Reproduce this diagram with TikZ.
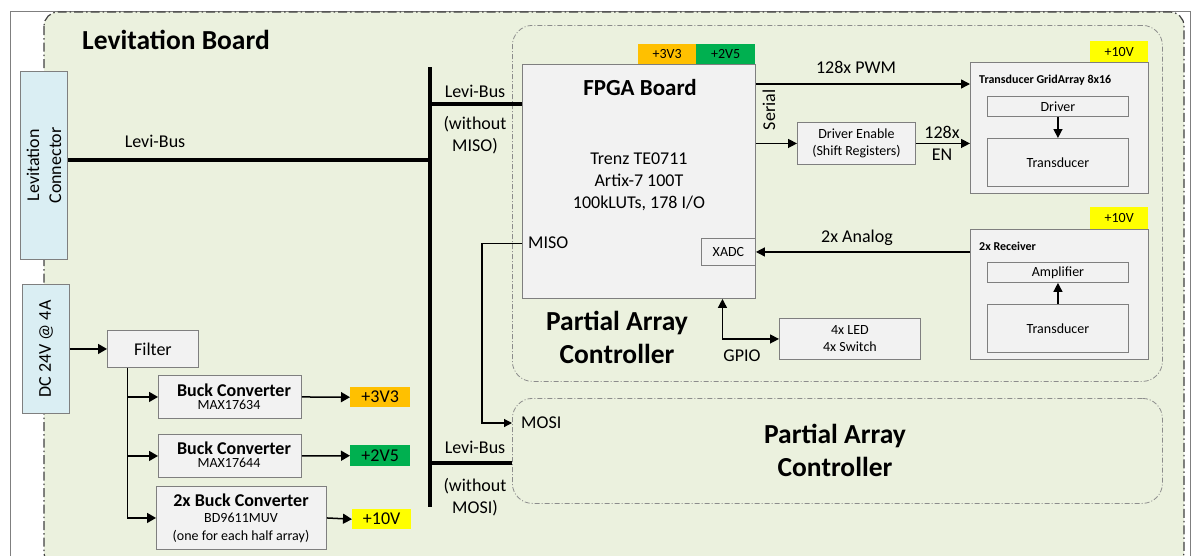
\documentclass[tikz,border=0pt]{standalone}
\usepackage{fontspec}
\setmainfont{Carlito}
\usetikzlibrary{arrows.meta,calc}
\definecolor{boardgreen}{HTML}{EBF1DE}
\definecolor{boxfill}{HTML}{F2F2F2}
\definecolor{boxline}{HTML}{7F7F7F}
\definecolor{connblue}{HTML}{DAEEF3}
\definecolor{orangeV}{HTML}{FFC000}
\definecolor{greenV}{HTML}{00B050}
\definecolor{yellowV}{HTML}{FFFF00}
\definecolor{borderdark}{HTML}{404040}
\definecolor{pacline}{HTML}{8C8C8C}
\begin{document}
\begin{tikzpicture}[x=1pt,y=-1pt,
  box/.style={draw=boxline, fill=boxfill, line width=0.9pt, inner sep=0pt, anchor=north west, align=center},
  vlab/.style={inner sep=0pt, anchor=north west, align=center},
  pac/.style={draw=pacline, line width=0.8pt, rounded corners=20pt, dash pattern=on 5pt off 2pt on 1pt off 2pt, inner sep=0pt, anchor=north west},
  fbig/.style={font=\fontsize{27.5}{33}\selectfont\bfseries},
  fmid/.style={font=\fontsize{18}{22}\selectfont},
  fmidb/.style={font=\fontsize{18}{20}\selectfont\bfseries},
  fsm/.style={font=\fontsize{14}{17}\selectfont},
  fsmb/.style={font=\fontsize{12}{15}\selectfont\bfseries},
  txt/.style={inner sep=0pt},
  bus/.style={line width=4pt},
  arr/.style={line width=1.4pt, -{Triangle[length=9pt,width=9pt]}},
  parr/.style={line width=1.5pt, -{Triangle[length=9pt,width=10pt]}},
  thin/.style={line width=1.2pt}
]
\useasboundingbox (0,0) rectangle (1197,555);
% outer frame
\draw[boxline, line width=0.9pt] (10,560) -- (10,11) -- (1190,11) -- (1190,560);
% board
\draw[borderdark, fill=boardgreen, line width=1.2pt, rounded corners=14pt, dash pattern=on 9pt off 3pt on 1.5pt off 3pt] (44,12) rectangle (1184,566);
\node[txt, fbig, anchor=west] (title) at (82,40) {Levitation Board};

% partial array controller regions
\node[pac, minimum width=650pt, minimum height=356pt] (pac1) at (512,25) {};
\node[pac, minimum width=650pt, minimum height=105pt] (pac2) at (512,398) {};
\node[txt, fbig, align=center] (pac1t) at (617,337) {Partial Array\\Controller};
\node[txt, fbig, align=center] (pac2t) at (835,450) {Partial Array\\Controller};

% connectors on the left
\node[box, fill=connblue, minimum width=47pt, minimum height=188pt] (conn) at (20,71) {};
\node[txt, fmid, rotate=90, align=center] (connt) at (conn.center) {Levitation\\Connector};
\node[box, fill=connblue, minimum width=47pt, minimum height=129pt] (dc) at (22,284) {};
\node[txt, fmid, rotate=90] (dct) at (dc.center) {DC 24V @ 4A};

% FPGA
\node[box, fmid, minimum width=233pt, minimum height=234pt] (fpga) at (522,64) {Trenz TE0711\\Artix-7 100T\\100kLUTs, 178 I/O};
\node[txt, font=\fontsize{23}{26}\selectfont\bfseries] (fpgat) at (640,88) {FPGA Board};
\node[vlab, fill=orangeV, fsm, minimum width=58pt, minimum height=20pt] (f33) at (638,44) {+3V3};
\node[vlab, fill=greenV, fsm, minimum width=59pt, minimum height=20pt] (f25) at (696,44) {+2V5};
\node[box, fsm, minimum width=54pt, minimum height=27pt] (xadc) at (701,238) {XADC};

% driver enable
\node[box, fsm, minimum width=118pt, minimum height=42pt] (de) at (797,122) {Driver Enable\\(Shift Registers)};

% transducer grid array
\node[box, minimum width=178pt, minimum height=131pt] (tga) at (970,62) {};
\node[vlab, fill=yellowV, fsm, minimum width=58pt, minimum height=21pt] (t10) at (1090,41) {+10V};
\node[txt, fsmb, anchor=west] (tgat) at (979,80) {Transducer GridArray 8x16};
\node[box, fsm, minimum width=141pt, minimum height=20pt] (drv) at (987,96) {Driver};
\node[box, fsm, minimum width=141pt, minimum height=48pt] (tr1) at (987,138) {Transducer};

% receiver
\node[box, minimum width=178pt, minimum height=130pt] (rx) at (970,229) {};
\node[vlab, fill=yellowV, fsm, minimum width=58pt, minimum height=22pt] (r10) at (1090,207) {+10V};
\node[txt, fsmb, anchor=west] (rxt) at (979,246) {2x Receiver};
\node[box, fsm, minimum width=141pt, minimum height=20pt] (amp) at (987,262) {Amplifier};
\node[box, fsm, minimum width=141pt, minimum height=48pt] (tr2) at (987,304) {Transducer};

% LED
\node[box, fsm, minimum width=141pt, minimum height=41pt] (led) at (779,318) {4x LED\\4x Switch};

% power section
\node[box, fmid, minimum width=91pt, minimum height=37pt] (filter) at (107,330) {Filter};
\node[box, minimum width=143pt, minimum height=43pt] (b1) at (158,375) {};
\node[txt, fmidb] (b1t) at (234,390) {Buck Converter};
\node[txt, fsm] (b1s) at (229,405) {MAX17634};
\node[box, minimum width=143pt, minimum height=43pt] (b2) at (158,434) {};
\node[txt, fmidb] (b2t) at (234,448) {Buck Converter};
\node[txt, fsm] (b2s) at (229,463) {MAX17644};
\node[box, minimum width=170pt, minimum height=63pt] (b3) at (156,486) {};
\node[txt, fmidb] (b3t) at (241,500) {2x Buck Converter};
\node[txt, fsm] (b3s) at (241,518) {BD9611MUV};
\node[txt, fsm] (b3n) at (241,536) {(one for each half array)};
\node[vlab, fill=orangeV, fmid, minimum width=60pt, minimum height=20pt] (p33) at (350,387) {+3V3};
\node[vlab, fill=greenV, fmid, minimum width=60pt, minimum height=21pt] (p25) at (350,445) {+2V5};
\node[vlab, fill=yellowV, fmid, minimum width=59pt, minimum height=20pt] (p10) at (352,509) {+10V};

% labels
\node[txt, fmid] (lb1) at (155,141) {Levi-Bus};
\node[txt, fmid] (lb2) at (475,91) {Levi-Bus};
\node[txt, fmid, align=center] (lb2n) at (475,135) {(without\\MISO)};
\node[txt, fmid] (lb3) at (475,447) {Levi-Bus};
\node[txt, fmid, align=center] (lb3n) at (475,497) {(without\\MOSI)};
\node[txt, fmid, anchor=west] (misol) at (528,243) {MISO};
\node[txt, fmid, anchor=west] (mosil) at (521,423) {MOSI};
\node[txt, fmid] (pwml) at (856,67) {128x PWM};
\node[txt, fmid, rotate=90] (seriall) at (769,110) {Serial};
\node[txt, fmid] (enl1) at (942,132) {128x};
\node[txt, fmid] (enl2) at (942,155) {EN};
\node[txt, fmid] (anal) at (857,238) {2x Analog};
\node[txt, fmid] (gpiol) at (742,356) {GPIO};

% bus
\coordinate (busT) at (430,67);
\coordinate (busB) at (430,507);
\draw[bus] (busT) -- (busB);
\draw[bus] ([yshift=5pt]conn.east) -- ([yshift=5pt]conn.east -| busT);
\coordinate (fpgaBus) at ([yshift=77pt]fpga.west);
\draw[bus] (fpgaBus -| busT) -- (fpgaBus);
\coordinate (pacBus) at ([yshift=-12.5pt]pac2.west);
\draw[bus] (pacBus -| busT) -- (pacBus);

% MISO -> MOSI
\coordinate (misoP) at ([yshift=-62pt]fpga.west);
\draw[thin, -{Triangle[length=8pt,width=8pt]}] (misoP) -- ++(-40,0) |- (pac2.west |- mosil);

% FPGA signals
\coordinate (pwmS) at ([yshift=-20pt]fpga.north east);
\draw[arr] (pwmS) -- (pwmS -| tga.west);
\draw[arr] (fpga.east |- de.west) -- (de.west);
\draw[arr] (de.east) -- (tga.west |- de.east);
\draw[arr] (rx.west |- xadc.east) -- (xadc.east);
\draw[arr] (drv.south) -- (tr1.north);
\draw[arr] (tr2.north) -- (amp.south);
\draw[line width=1.4pt, {Triangle[length=9pt,width=9pt]}-{Triangle[length=9pt,width=9pt]}] ([xshift=83.5pt]fpga.south) |- (led.west);

% power
\draw[parr] (dc.east |- filter.west) -- (filter.west);
\coordinate (fx) at ([xshift=-25.5pt]filter.south);
\draw[thin] (fx) -- (fx |- b3.west);
\draw[parr] (fx |- b1.west) -- (b1.west);
\draw[parr] (fx |- b2.west) -- (b2.west);
\draw[parr] (fx |- b3.west) -- (b3.west);
\draw[parr] (b1.east) -- (p33.west);
\draw[parr] (b2.east) -- (p25.west);
\draw[parr] (b3.east) -- (p10.west);
\end{tikzpicture}
\end{document}
